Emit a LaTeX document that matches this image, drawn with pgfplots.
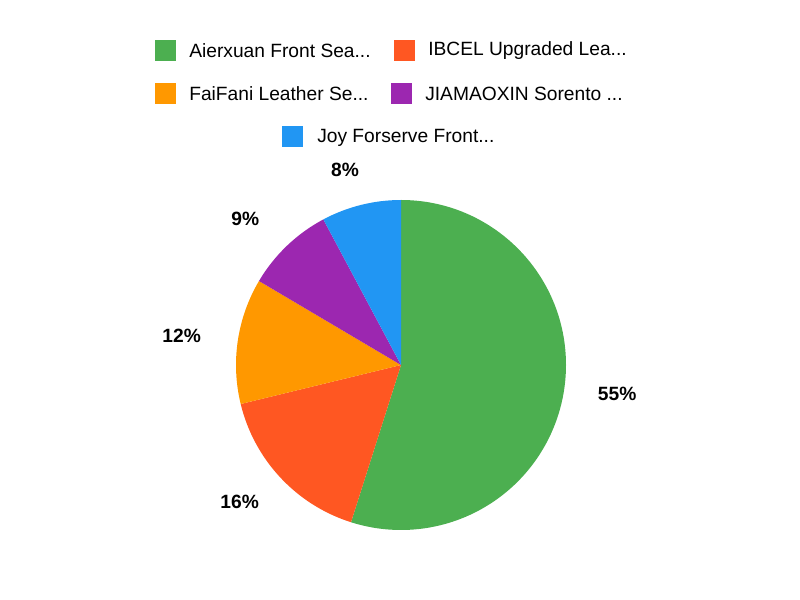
\documentclass[border=0pt]{standalone}
\usepackage{pgfplots}
\usepackage{pgfplotstable}
\pgfplotsset{compat=1.18}
\usepackage{fontspec}
\setmainfont{Liberation Sans}

\definecolor{cgreen}{HTML}{4CAF50}
\definecolor{cred}{HTML}{FF5722}
\definecolor{corange}{HTML}{FF9800}
\definecolor{cpurple}{HTML}{9C27B0}
\definecolor{cblue}{HTML}{2196F3}

\newcommand\legfont{\fontsize{14.4}{16}\selectfont}
\newcommand\labelfont{\fontsize{14.4}{16}\selectfont\bfseries}

% share of each slice (percent), colour, printed label, label nudge (px)
\pgfplotstableread{
share col label nx ny
54.9 cgreen 55 1 5
16.3 cred 16 -9 5
12.3 corange 12 -4 -3
8.7 cpurple 9 -12 -4
7.8 cblue 8 -6 -4
}\piedata

\begin{document}
\begin{tikzpicture}
\begin{axis}[
    hide axis,
    scale only axis,
    x=0.75pt, y=0.75pt,
    xmin=0, xmax=800, ymin=0, ymax=600,
    clip=false,
]
\path (axis cs:0,0) rectangle (axis cs:800,600);

% pie slices, clockwise from 12 o'clock
\pgfplotstablegetrowsof{\piedata}
\pgfmathtruncatemacro\lastrow{\pgfplotsretval-1}
\def\cum{0}
\pgfplotsforeachungrouped \i in {0,...,\lastrow}{%
  \pgfplotstablegetelem{\i}{share}\of\piedata \let\v\pgfplotsretval
  \pgfplotstablegetelem{\i}{col}\of\piedata \let\c\pgfplotsretval
  \pgfplotstablegetelem{\i}{label}\of\piedata \let\l\pgfplotsretval
  \pgfplotstablegetelem{\i}{nx}\of\piedata \let\nx\pgfplotsretval
  \pgfplotstablegetelem{\i}{ny}\of\piedata \let\ny\pgfplotsretval
  \pgfmathsetmacro\sa{90-3.6*\cum}
  \pgfmathsetmacro\ea{90-3.6*(\cum+\v)}
  \pgfmathsetmacro\ma{(\sa+\ea)/2}
  \pgfmathsetmacro\aa{\ma+180}
  \pgfmathsetmacro\px{401+165*cos(\sa)}
  \pgfmathsetmacro\py{235+165*sin(\sa)}
  \pgfmathsetmacro\lx{401+198*cos(\ma)+\nx}
  \pgfmathsetmacro\ly{235+198*sin(\ma)+\ny}
  \edef\temp{%
    \noexpand\fill[\c] (axis cs:401,235) -- (axis cs:\px,\py)
      arc[start angle=\sa, end angle=\ea, radius=123.75pt] -- cycle;
    \noexpand\node[font=\noexpand\labelfont, inner sep=0pt, anchor=\aa]
      at (axis cs:\lx,\ly) {\l\noexpand\%};%
  }%
  \temp
  \pgfmathsetmacro\cum{\cum+\v}
}

% legend
\fill[cgreen]  (axis cs:155,560) rectangle (axis cs:176,539);
\node[anchor=west, font=\legfont, inner sep=0pt] at (axis cs:189,549) {Aierxuan Front Sea...};
\fill[cred]    (axis cs:394,560) rectangle (axis cs:415,539);
\node[anchor=west, font=\legfont, inner sep=0pt] at (axis cs:428,549) {IBCEL Upgraded Lea...};
\fill[corange] (axis cs:155,517) rectangle (axis cs:176,496);
\node[anchor=west, font=\legfont, inner sep=0pt] at (axis cs:189,506) {FaiFani Leather Se...};
\fill[cpurple] (axis cs:391,517) rectangle (axis cs:412,496);
\node[anchor=west, font=\legfont, inner sep=0pt] at (axis cs:425,506) {JIAMAOXIN Sorento ...};
\fill[cblue]   (axis cs:282,474) rectangle (axis cs:303,453);
\node[anchor=west, font=\legfont, inner sep=0pt] at (axis cs:317,462.5) {Joy Forserve Front...};
\end{axis}
\end{tikzpicture}
\end{document}
